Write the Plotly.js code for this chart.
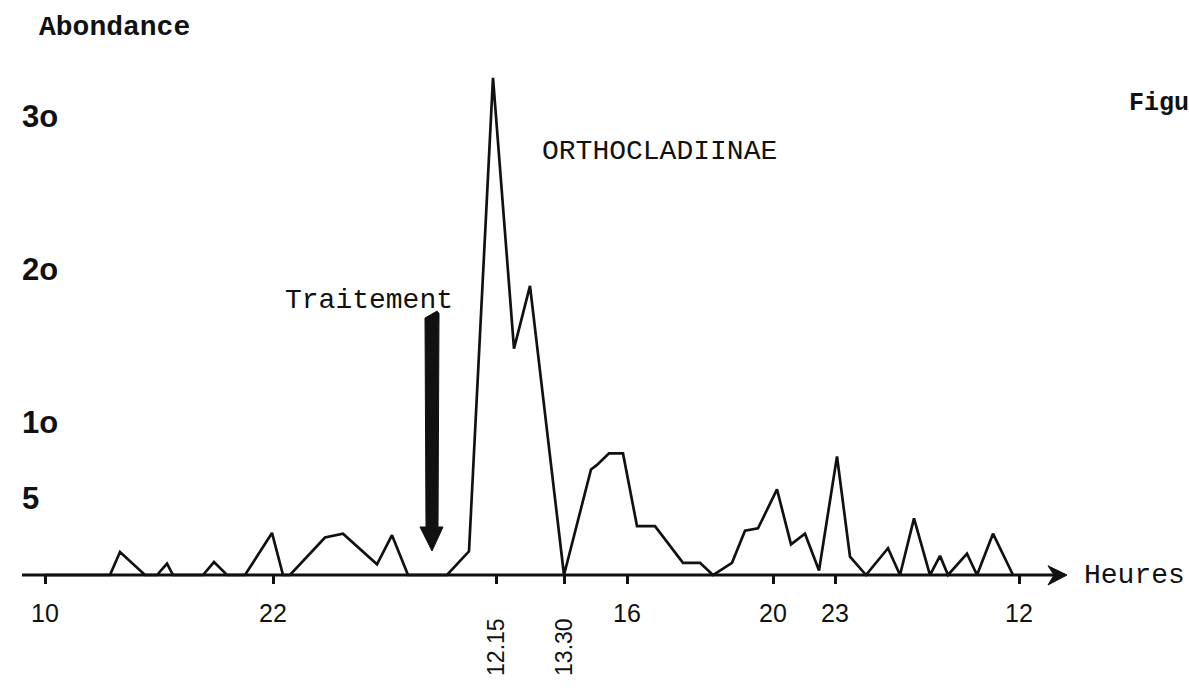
<!DOCTYPE html>
<html>
<head>
<meta charset="utf-8">
<script src="https://cdn.plot.ly/plotly-3.0.1.min.js"></script>
<style>html,body{margin:0;padding:0;background:#fff;}#chart{width:1189px;height:694px;}</style>
</head>
<body>
<div id="chart"></div>
<script>
// Positions along the (non-linear) time axis, arbitrary units
const positions = [0,65,75,100,112,122,128,158,169,182,200,227,238,245,280,298,332,347,363,402,424,448,469,485,519,546,552,564,578,592,610,638,655,668,687,700,713,732,746,760,774,792,805,821,843,855,869,885,895,903,922,932,948,968];
// Abondance (ORTHOCLADIINAE)
const abondance = [0,0,1.5,0,0,0.75,0,0,0.85,0,0,2.75,0,0,2.45,2.7,0.7,2.6,0,0,1.55,32.5,14.8,18.9,0,6.9,7.2,7.95,7.95,3.2,3.2,0.8,0.8,0,0.8,2.9,3.05,5.6,2.0,2.7,0.3,7.75,1.2,0,1.75,0,3.7,0,1.25,0,1.4,0,2.7,0];

// Time-axis ticks (hours)
const tickPositions = [0,228,451,519,582,728,790,974];
const tickLabels = ["10","22","","","16","20","23","12"];
const rotatedTickPositions = [451,519];
const rotatedTickLabels = ["12.15","13.30"];

// Abondance ticks
const yTickValues = [5,10,20,30];
const yTickLabels = ["5","1o","2o","3o"];

const treatmentPosition = 387;

const yMin = -7.45, yMax = 36.93;
const ink = '#111';
const mono = 'Liberation Mono, Courier New, monospace';
const sans = 'Liberation Sans, Arial, sans-serif';

const trace = {
  x: positions, y: abondance, type: 'scatter', mode: 'lines',
  line: {color: ink, width: 2.7}, hoverinfo: 'skip', showlegend: false
};

const shapes = [
  // x axis line
  {type: 'line', xref: 'x', yref: 'y', x0: -23, x1: 1010, y0: 0, y1: 0, line: {color: ink, width: 3}},
  // x axis arrowhead
  {type: 'path', xref: 'x', yref: 'y', path: 'M 1003 0.6 L 1022 0 L 1003 -0.65 L 1009 0 Z', fillcolor: ink, line: {color: ink, width: 1}},
  // Treatment arrow
  {type: 'path', xref: 'x', yref: 'y',
   path: `M ${treatmentPosition-7} 16.8 L ${treatmentPosition+5} 17.25 L ${treatmentPosition+7} 17.1 L ${treatmentPosition+6} 3.14 L ${treatmentPosition+11} 3.14 L ${treatmentPosition} 1.57 L ${treatmentPosition-12} 3.14 L ${treatmentPosition-6} 3.14 Z`,
   fillcolor: ink, line: {color: ink, width: 1}}
];

const annotations = [
  {x: -8, y: 35.8, xref: 'x', yref: 'y', text: 'Abondance', showarrow: false, xanchor: 'left', yanchor: 'middle',
   font: {family: mono, size: 28, color: ink, weight: 'bold'}},
  {x: 238, y: 17.97, xref: 'x', yref: 'y', text: 'Traitement', showarrow: false, xanchor: 'left', yanchor: 'middle',
   font: {family: mono, size: 28, color: ink}},
  {x: 495, y: 27.65, xref: 'x', yref: 'y', text: 'ORTHOCLADIINAE', showarrow: false, xanchor: 'left', yanchor: 'middle',
   font: {family: mono, size: 28, color: ink}},
  {x: 1037, y: 0, xref: 'x', yref: 'y', text: 'Heures', showarrow: false, xanchor: 'left', yanchor: 'middle',
   font: {family: mono, size: 28, color: ink}},
  {x: 1082, y: 30.8, xref: 'x', yref: 'y', text: 'Figu', showarrow: false, xanchor: 'left', yanchor: 'middle',
   font: {family: mono, size: 25, color: ink, weight: 'bold'}}
];
rotatedTickLabels.forEach((t, i) => {
  annotations.push({x: rotatedTickPositions[i], y: -4.7, xref: 'x', yref: 'y', text: t, showarrow: false,
    textangle: -90, xanchor: 'center', yanchor: 'middle', font: {family: sans, size: 23, color: ink}});
});
yTickLabels.forEach((t, i) => {
  annotations.push({x: -25, y: yTickValues[i], xref: 'x', yref: 'y', text: t, showarrow: false,
    xanchor: 'left', yanchor: 'middle', font: {family: sans, size: 31, color: ink, weight: 'bold'}});
});

const layout = {
  width: 1189, height: 694,
  margin: {l: 0, r: 0, t: 10, b: 5, pad: 0},
  paper_bgcolor: '#fff', plot_bgcolor: '#fff',
  showlegend: false,
  xaxis: {
    range: [-45, 1144], anchor: 'free', position: (0 - yMin) / (yMax - yMin),
    showgrid: false, zeroline: false, showline: false,
    ticks: 'outside', ticklen: 8, tickwidth: 3, tickcolor: ink,
    tickmode: 'array', tickvals: tickPositions, ticktext: tickLabels,
    tickfont: {family: sans, size: 25, color: ink}, ticklabelstandoff: 8
  },
  yaxis: {
    range: [yMin, yMax], showgrid: false, zeroline: false, showline: false,
    ticks: '', tickmode: 'array', tickvals: yTickValues, showticklabels: false
  },
  shapes: shapes,
  annotations: annotations
};

Plotly.newPlot('chart', [trace], layout, {staticPlot: true, displayModeBar: false});
</script>
</body>
</html>
